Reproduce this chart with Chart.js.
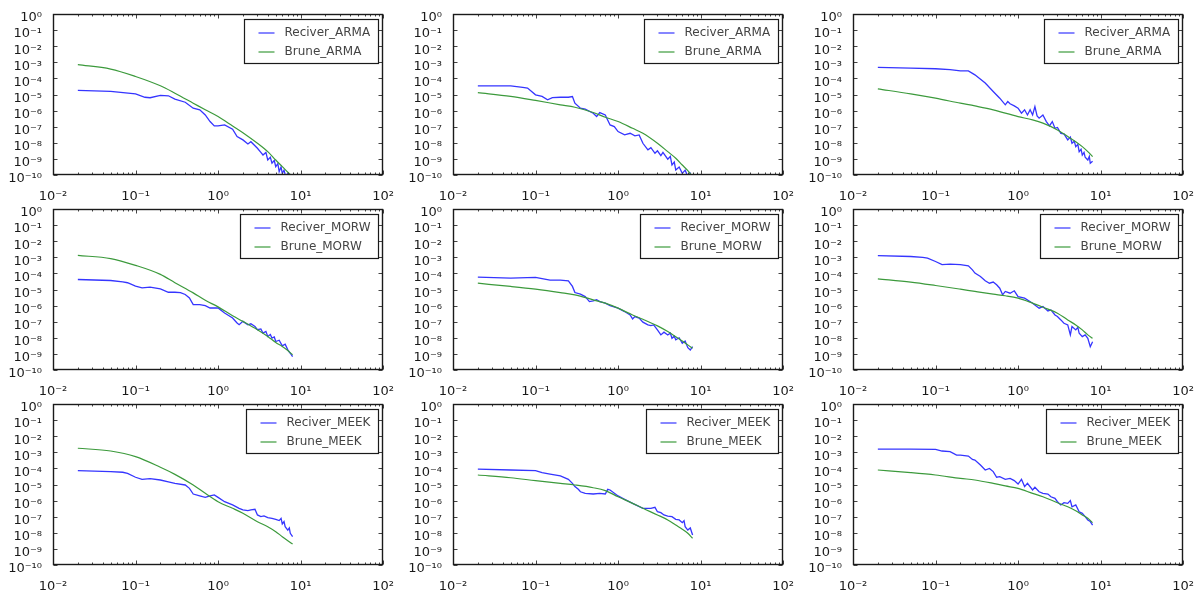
<!DOCTYPE html>
<html>
<head>
<meta charset="utf-8">
<script src="https://cdn.jsdelivr.net/npm/chart.js@4.4.1/dist/chart.umd.min.js"></script>
<style>
  body { margin: 0; background: #fff; }
  #grid { position: relative; width: 1201px; height: 592px; overflow: hidden; }
  #grid canvas { position: absolute; }
</style>
</head>
<body>
<div id="grid"></div>
<script>
// axis ticks
const xTicks = [0.01, 0.1, 1, 10, 100];
const xTickLabels = ['10⁻²', '10⁻¹', '10⁰', '10¹', '10²'];
const yTicks = [1, 1e-1, 1e-2, 1e-3, 1e-4, 1e-5, 1e-6, 1e-7, 1e-8, 1e-9, 1e-10];
const yTickLabels = ['10⁰', '10⁻¹', '10⁻²', '10⁻³', '10⁻⁴', '10⁻⁵', '10⁻⁶', '10⁻⁷', '10⁻⁸', '10⁻⁹', '10⁻¹⁰'];

const stations = ['ARMA', 'MORW', 'MEEK'];

// Brune model, values given as powers of ten, read at bruneFreq
const bruneFreq = [0.02, 0.05, 0.1, 0.2, 0.3, 0.5, 0.7, 1, 1.5, 2, 3, 4, 5, 6, 7, 8];
const bruneArma1 = [-3.15, -3.42, -3.88, -4.46, -4.92, -5.54, -5.95, -6.37, -6.95, -7.37, -8.03, -8.55, -9.07, -9.48, -9.83, -10.1];
const bruneArma2 = [-4.88, -5.12, -5.37, -5.64, -5.79, -6.12, -6.41, -6.68, -7.1, -7.41, -8.03, -8.55, -8.96, -9.38, -9.73, -10.1];
const bruneArma3 = [-4.65, -4.96, -5.23, -5.54, -5.71, -5.95, -6.16, -6.37, -6.58, -6.78, -7.2, -7.61, -7.93, -8.24, -8.55, -8.86];
const bruneMorw1 = [-2.88, -3.08, -3.5, -4.06, -4.58, -5.21, -5.67, -6.08, -6.63, -6.98, -7.5, -7.92, -8.29, -8.54, -8.79, -9.06];
const bruneMorw2 = [-4.61, -4.81, -4.98, -5.19, -5.33, -5.64, -5.85, -6.16, -6.58, -6.85, -7.26, -7.61, -7.93, -8.2, -8.44, -8.65];
const bruneMorw3 = [-4.34, -4.54, -4.75, -4.98, -5.12, -5.29, -5.39, -5.54, -5.85, -6.1, -6.47, -6.89, -7.2, -7.51, -7.82, -8.03];
const bruneMeek1 = [-2.75, -2.92, -3.27, -3.93, -4.37, -5.03, -5.55, -6.07, -6.48, -6.79, -7.31, -7.62, -7.93, -8.24, -8.49, -8.7];
const bruneMeek2 = [-4.41, -4.58, -4.76, -4.93, -5.03, -5.2, -5.38, -5.76, -6.17, -6.48, -6.89, -7.2, -7.52, -7.78, -8.03, -8.34];
const bruneMeek3 = [-4.1, -4.26, -4.41, -4.62, -4.72, -4.93, -5.09, -5.24, -5.55, -5.76, -6.13, -6.38, -6.63, -6.89, -7.1, -7.37];

// receiver spectra, [frequency, power of ten]
const recArma1 = [[0.02,-4.75],[0.05,-4.81],[0.1,-4.96],[0.13,-5.17],[0.15,-5.2],[0.2,-5.06],[0.25,-5.08],[0.3,-5.29],[0.4,-5.48],[0.5,-5.85],[0.6,-5.95],[0.7,-6.27],[0.8,-6.68],[0.9,-6.95],[1,-6.95],[1.2,-6.89],[1.5,-7.16],[1.7,-7.61],[2,-7.82],[2.3,-8.07],[2.5,-7.93],[3,-8.34],[3.3,-8.6],[3.5,-8.76],[3.8,-8.6],[4,-9.07],[4.3,-8.9],[4.5,-9.27],[4.8,-9.1],[5,-9.48],[5.3,-9.3],[5.5,-9.79],[5.8,-9.5],[6,-9.9],[6.3,-9.7],[6.6,-10.1],[7,-9.9],[7.5,-10.3],[8,-10.2]];
const recArma2 = [[0.02,-4.46],[0.05,-4.46],[0.07,-4.56],[0.08,-4.6],[0.1,-5.02],[0.12,-5.12],[0.14,-5.33],[0.16,-5.19],[0.2,-5.17],[0.25,-5.17],[0.28,-5.13],[0.3,-5.54],[0.35,-5.85],[0.4,-5.91],[0.5,-6.16],[0.55,-6.37],[0.6,-6.12],[0.7,-6.27],[0.8,-6.89],[0.9,-6.99],[1,-7.3],[1.2,-7.51],[1.4,-7.41],[1.6,-7.57],[1.8,-7.51],[2,-8.03],[2.3,-8.44],[2.5,-8.3],[2.8,-8.65],[3,-8.5],[3.3,-8.8],[3.5,-8.6],[4,-9.02],[4.3,-8.85],[4.5,-9.38],[4.8,-9.2],[5,-9.69],[5.5,-9.5],[6,-9.9],[6.5,-9.7],[7,-10.1],[7.5,-9.9],[8,-10.3]];
const recArma3 = [[0.02,-3.32],[0.05,-3.36],[0.1,-3.4],[0.15,-3.46],[0.2,-3.53],[0.25,-3.53],[0.3,-3.78],[0.4,-4.29],[0.5,-4.81],[0.6,-5.23],[0.7,-5.64],[0.75,-5.44],[0.8,-5.58],[0.9,-5.71],[1,-5.85],[1.1,-6.16],[1.2,-5.95],[1.3,-6.27],[1.4,-5.95],[1.5,-6.27],[1.6,-5.75],[1.7,-6.33],[1.8,-6.47],[2,-6.27],[2.2,-6.68],[2.4,-6.95],[2.6,-6.68],[2.8,-7.1],[3,-7.05],[3.3,-7.41],[3.6,-7.45],[4,-7.82],[4.3,-7.65],[4.5,-8.03],[4.8,-7.9],[5,-8.24],[5.3,-8.1],[5.5,-8.55],[5.8,-8.4],[6,-8.76],[6.3,-8.6],[6.5,-8.9],[7,-9.07],[7.3,-8.85],[7.5,-9.27],[8,-9.15]];
const recMorw1 = [[0.02,-4.38],[0.05,-4.44],[0.07,-4.52],[0.08,-4.58],[0.1,-4.79],[0.12,-4.9],[0.15,-4.85],[0.2,-4.96],[0.25,-5.17],[0.3,-5.17],[0.35,-5.2],[0.4,-5.31],[0.45,-5.52],[0.5,-5.94],[0.6,-5.94],[0.7,-6.0],[0.8,-6.15],[1,-6.15],[1.2,-6.46],[1.5,-6.77],[1.7,-7.08],[1.8,-7.19],[2,-6.98],[2.3,-7.19],[2.5,-7.13],[2.8,-7.29],[3,-7.5],[3.3,-7.45],[3.5,-7.71],[3.8,-7.6],[4,-7.92],[4.3,-7.8],[4.5,-8.02],[4.8,-7.95],[5,-8.23],[5.5,-8.15],[6,-8.5],[6.5,-8.4],[7,-8.75],[7.5,-8.96],[8,-9.17]];
const recMorw2 = [[0.02,-4.23],[0.05,-4.29],[0.1,-4.25],[0.12,-4.33],[0.15,-4.42],[0.2,-4.42],[0.25,-4.46],[0.28,-4.81],[0.3,-5.19],[0.35,-5.29],[0.4,-5.44],[0.45,-5.75],[0.5,-5.71],[0.55,-5.64],[0.6,-5.75],[0.7,-5.85],[0.8,-6.0],[1,-6.16],[1.2,-6.37],[1.4,-6.58],[1.5,-6.83],[1.6,-6.68],[1.8,-6.78],[2,-7.03],[2.3,-7.2],[2.5,-7.24],[2.7,-7.2],[3,-7.51],[3.3,-7.82],[3.6,-7.65],[4,-7.82],[4.3,-7.7],[4.5,-8.03],[4.8,-7.9],[5,-8.13],[5.5,-8.0],[6,-8.34],[6.5,-8.2],[7,-8.61],[7.5,-8.76],[8,-8.55]];
const recMorw3 = [[0.02,-2.9],[0.05,-2.95],[0.07,-3.01],[0.08,-3.05],[0.1,-3.26],[0.12,-3.46],[0.15,-3.42],[0.2,-3.46],[0.25,-3.53],[0.28,-3.78],[0.3,-3.98],[0.35,-4.19],[0.4,-4.46],[0.45,-4.61],[0.5,-4.54],[0.55,-4.71],[0.6,-4.92],[0.65,-5.33],[0.7,-5.12],[0.8,-5.23],[0.9,-5.08],[1,-5.44],[1.2,-5.54],[1.5,-5.85],[1.8,-6.16],[2,-6.06],[2.3,-6.33],[2.5,-6.27],[2.8,-6.58],[3,-6.68],[3.3,-6.89],[3.6,-7.1],[4,-7.2],[4.3,-7.82],[4.5,-7.3],[5,-7.51],[5.3,-7.35],[5.5,-7.72],[6,-7.93],[6.5,-7.82],[7,-8.03],[7.5,-8.55],[8,-8.24]];
const recMeek1 = [[0.02,-4.14],[0.05,-4.2],[0.07,-4.24],[0.08,-4.31],[0.1,-4.55],[0.12,-4.68],[0.15,-4.64],[0.2,-4.72],[0.25,-4.83],[0.3,-4.93],[0.4,-5.03],[0.45,-5.24],[0.5,-5.59],[0.6,-5.71],[0.65,-5.76],[0.7,-5.8],[0.8,-5.71],[0.9,-5.65],[1,-5.8],[1.2,-6.07],[1.5,-6.27],[1.8,-6.48],[2,-6.58],[2.3,-6.62],[2.5,-6.58],[2.8,-6.54],[3,-6.89],[3.3,-6.99],[3.6,-6.95],[4,-7.06],[4.5,-7.1],[5,-7.16],[5.5,-7.24],[5.8,-7.1],[6,-7.45],[6.3,-7.3],[6.5,-7.62],[7,-7.83],[7.3,-7.7],[7.5,-8.03],[8,-8.24]];
const recMeek2 = [[0.02,-4.04],[0.05,-4.1],[0.1,-4.14],[0.12,-4.26],[0.15,-4.35],[0.2,-4.47],[0.25,-4.68],[0.28,-4.93],[0.3,-5.13],[0.33,-5.3],[0.35,-5.45],[0.4,-5.55],[0.5,-5.59],[0.6,-5.55],[0.7,-5.59],[0.75,-5.3],[0.8,-5.34],[1,-5.71],[1.2,-5.92],[1.5,-6.17],[2,-6.48],[2.5,-6.48],[2.8,-6.42],[3,-6.69],[3.3,-6.75],[3.6,-6.89],[4,-6.96],[4.5,-7.0],[5,-7.16],[5.5,-7.2],[6,-7.37],[6.3,-7.25],[6.5,-7.62],[7,-7.83],[7.5,-7.7],[8,-8.14]];
const recMeek3 = [[0.02,-2.8],[0.05,-2.8],[0.1,-2.82],[0.12,-2.92],[0.15,-2.96],[0.18,-3.17],[0.2,-3.17],[0.25,-3.23],[0.28,-3.44],[0.3,-3.48],[0.35,-3.79],[0.4,-4.1],[0.45,-4.0],[0.5,-4.2],[0.55,-4.55],[0.6,-4.51],[0.7,-4.68],[0.8,-4.62],[0.9,-4.76],[1,-4.97],[1.1,-4.68],[1.2,-5.13],[1.3,-4.93],[1.5,-5.34],[1.6,-5.17],[1.8,-5.45],[2,-5.55],[2.3,-5.59],[2.5,-5.76],[2.8,-5.86],[3,-6.07],[3.3,-6.27],[3.6,-6.13],[4,-6.17],[4.3,-6.0],[4.5,-6.38],[5,-6.27],[5.5,-6.69],[6,-6.79],[6.5,-7.0],[7,-7.2],[7.5,-7.3],[8,-7.52]];

const panels = [
  { st: 'ARMA', rec: recArma1, brune: bruneArma1 },
  { st: 'ARMA', rec: recArma2, brune: bruneArma2 },
  { st: 'ARMA', rec: recArma3, brune: bruneArma3 },
  { st: 'MORW', rec: recMorw1, brune: bruneMorw1 },
  { st: 'MORW', rec: recMorw2, brune: bruneMorw2 },
  { st: 'MORW', rec: recMorw3, brune: bruneMorw3 },
  { st: 'MEEK', rec: recMeek1, brune: bruneMeek1 },
  { st: 'MEEK', rec: recMeek2, brune: bruneMeek2 },
  { st: 'MEEK', rec: recMeek3, brune: bruneMeek3 }
];

const ink = '#1a1a1a';
const tickFont = { family: 'DejaVu Sans', size: 13 };

// axes frame plus matplotlib-style inward ticks
const frameTicks = {
  id: 'frameTicks',
  afterDatasetsDraw(chart) {
    const { ctx, chartArea: a, scales: { x, y } } = chart;
    const L = Math.round(a.left) + 0.5, R = Math.round(a.right) - 0.5;
    const T = Math.round(a.top) + 0.5, B = Math.round(a.bottom) - 0.5;
    ctx.save();
    ctx.strokeStyle = '#444';
    ctx.lineWidth = 1;
    ctx.beginPath();
    xTicks.forEach((v, i) => {
      const px = Math.round(x.getPixelForValue(v)) + 0.5;
      ctx.moveTo(px, B); ctx.lineTo(px, B - 4);
      ctx.moveTo(px, T); ctx.lineTo(px, T + 4);
      if (i < xTicks.length - 1) {
        for (let m = 2; m <= 9; m++) {
          const mx = Math.round(x.getPixelForValue(v * m)) + 0.5;
          ctx.moveTo(mx, B); ctx.lineTo(mx, B - 2);
          ctx.moveTo(mx, T); ctx.lineTo(mx, T + 2);
        }
      }
    });
    yTicks.forEach(v => {
      const py = Math.round(y.getPixelForValue(v)) + 0.5;
      ctx.moveTo(L, py); ctx.lineTo(L + 4, py);
      ctx.moveTo(R, py); ctx.lineTo(R - 4, py);
    });
    ctx.stroke();
    ctx.strokeStyle = ink;
    ctx.lineWidth = 1.4;
    ctx.strokeRect(L, T, R - L, B - T);
    ctx.restore();
  }
};

// boxed legend in the upper right corner of the axes
const boxLegend = {
  id: 'boxLegend',
  afterDraw(chart) {
    const { ctx, chartArea: a } = chart;
    const ds = chart.data.datasets;
    ctx.save();
    ctx.font = '12px "DejaVu Sans"';
    const tw = Math.max(...ds.map(d => ctx.measureText(d.label).width));
    const w = Math.round(40 + tw + 8), h = 44;
    const bx = Math.round(a.right - 5 - w) + 0.5, by = Math.round(a.top + 5) + 0.5;
    ctx.fillStyle = '#fff';
    ctx.fillRect(bx, by, w, h);
    ctx.strokeStyle = ink;
    ctx.lineWidth = 1.2;
    ctx.strokeRect(bx, by, w, h);
    ds.forEach((d, k) => {
      const yy = by + 13.5 + k * 19;
      ctx.strokeStyle = d.borderColor;
      ctx.lineWidth = 1.2;
      ctx.beginPath();
      ctx.moveTo(bx + 14, yy); ctx.lineTo(bx + 30, yy);
      ctx.stroke();
      ctx.fillStyle = '#444';
      ctx.textBaseline = 'middle';
      ctx.fillText(d.label, bx + 40, yy);
    });
    ctx.restore();
  }
};

const grid = document.getElementById('grid');

panels.forEach((p, i) => {
  const col = i % 3, row = Math.floor(i / 3);
  const cv = document.createElement('canvas');
  cv.width = 400; cv.height = 205;
  cv.style.left = (col * 400) + 'px';
  cv.style.top = (row * 195) + 'px';
  grid.appendChild(cv);

  new Chart(cv, {
    type: 'line',
    data: {
      datasets: [{
        label: 'Reciver_' + p.st,
        data: p.rec.map(([f, e]) => ({ x: f, y: Math.pow(10, e) })),
        borderColor: '#3535ff',
        borderWidth: 1.3,
        pointRadius: 0,
        tension: 0,
        order: 1
      }, {
        label: 'Brune_' + p.st,
        data: bruneFreq.map((f, k) => ({ x: f, y: Math.pow(10, p.brune[k]) })),
        borderColor: '#3c9a3c',
        borderWidth: 1.2,
        pointRadius: 0,
        cubicInterpolationMode: 'monotone',
        order: 0
      }]
    },
    options: {
      responsive: false,
      animation: false,
      devicePixelRatio: 1,
      layout: { padding: { left: 0, right: 12, top: 14, bottom: 0 } },
      plugins: { legend: { display: false }, tooltip: { enabled: false } },
      scales: {
        x: {
          type: 'logarithmic', min: 0.01, max: 100,
          afterBuildTicks: s => { s.ticks = xTicks.map(v => ({ value: v })); },
          afterFit: s => { s.height = 30; },
          grid: { display: false },
          border: { display: false },
          ticks: {
            autoSkip: false, maxRotation: 0, padding: 6,
            font: tickFont, color: ink,
            callback: v => xTickLabels[xTicks.indexOf(v)]
          }
        },
        y: {
          type: 'logarithmic', min: 1e-10, max: 1,
          afterBuildTicks: s => { s.ticks = yTicks.slice().reverse().map(v => ({ value: v })); },
          afterFit: s => { s.width = 53; },
          grid: { display: false },
          border: { display: false },
          ticks: {
            autoSkip: false, padding: 3, labelOffset: 4,
            font: tickFont, color: ink,
            callback: v => yTickLabels[yTicks.indexOf(v)]
          }
        }
      }
    },
    plugins: [frameTicks, boxLegend]
  });
});
</script>
</body>
</html>
